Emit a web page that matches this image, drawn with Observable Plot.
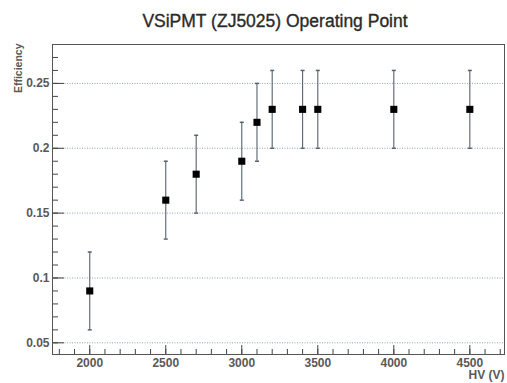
<!DOCTYPE html>
<html><head><meta charset="utf-8">
<script src="https://cdn.jsdelivr.net/npm/d3@7"></script>
<script src="https://cdn.jsdelivr.net/npm/@observablehq/plot@0.6"></script>
<style>body{margin:0;background:#fff;} svg{display:block}</style>
</head><body><div id="chart"></div>
<script>
const hv      = [2000, 2500, 2700, 3000, 3100, 3200, 3400, 3500, 4000, 4500];
const eff     = [0.09, 0.16, 0.18, 0.19, 0.22, 0.23, 0.23, 0.23, 0.23, 0.23];
const errLow  = [0.06, 0.13, 0.15, 0.16, 0.19, 0.20, 0.20, 0.20, 0.20, 0.20];
const errHigh = [0.12, 0.19, 0.21, 0.22, 0.25, 0.26, 0.26, 0.26, 0.26, 0.26];
const xTicks = [2000, 2500, 3000, 3500, 4000, 4500];
const yTicks = [0.05, 0.1, 0.15, 0.2, 0.25];
const xMinor = d3.range(1800, 4701, 100);
const yMinor = d3.range(5, 28).map(v => v / 100);
const title = "VSiPMT (ZJ5025) Operating Point";
const xLabel = "HV (V)";
const yLabel = "Efficiency";

const data = hv.map((x, i) => ({x, y: eff[i], lo: errLow[i], hi: errHigh[i]}));

const cap = {draw(ctx, size) { const w = Math.sqrt(size / Math.PI); ctx.moveTo(-w, 0); ctx.lineTo(w, 0); }};
const font = "'Liberation Sans', Helvetica, Arial, sans-serif";
const errColor = "#56636f";
const axisColor = "#444";
const labelColor = "#595959";

const chart = Plot.plot({
  width: 507, height: 383,
  marginLeft: 52, marginRight: 3, marginTop: 44, marginBottom: 29,
  style: {fontFamily: font, background: "#fff"},
  x: {domain: [1755, 4728], label: null},
  y: {domain: [0.041, 0.280], label: null},
  marks: [
    Plot.gridY(yTicks, {stroke: "#8fa3b8", strokeOpacity: 1, strokeDasharray: "1,1.5"}),
    Plot.axisY(yTicks, {anchor: "left", label: null, tickSize: 0, tickPadding: 3, tickFormat: d => String(d), fontSize: 12, fontWeight: "bold", fill: labelColor}),
    Plot.axisY(yTicks, {anchor: "left", label: null, tickSize: -12, text: null, stroke: axisColor}),
    Plot.axisY(yMinor, {anchor: "left", label: null, tickSize: -6, text: null, stroke: axisColor}),
    Plot.axisX(xTicks, {anchor: "bottom", label: null, tickSize: 0, tickPadding: 4, tickFormat: d => String(d), fontSize: 12, fontWeight: "bold", fill: labelColor}),
    Plot.axisX(xTicks, {anchor: "bottom", label: null, tickSize: -9, text: null, stroke: axisColor}),
    Plot.axisX(xMinor, {anchor: "bottom", label: null, tickSize: -5, text: null, stroke: axisColor}),
    Plot.frame({stroke: "#555"}),
    Plot.ruleX(data, {x: "x", y1: "lo", y2: "hi", stroke: errColor, strokeWidth: 1.1}),
    Plot.dot(data, {x: "x", y: "hi", symbol: cap, r: 2, stroke: errColor, fill: "none"}),
    Plot.dot(data, {x: "x", y: "lo", symbol: cap, r: 2, stroke: errColor, fill: "none"}),
    Plot.dot(data, {x: "x", y: "y", symbol: "square", r: 4, fill: "#000", stroke: "none"}),
    Plot.text([title], {frameAnchor: "top", dy: -23, dx: -3.5, text: d => d, fontSize: 17.5, fill: "#2a2a2a", stroke: "#2a2a2a", strokeWidth: 0.35, lineAnchor: "middle"}),
    Plot.text([xLabel], {frameAnchor: "bottom-right", dy: 21, dx: 0, textAnchor: "end", text: d => d, fontSize: 12, fontWeight: "bold", fill: labelColor, lineAnchor: "middle"}),
    Plot.text([yLabel], {frameAnchor: "top-left", dx: -34, dy: -1, rotate: -90, textAnchor: "end", text: d => d, fontSize: 10.5, fontWeight: "bold", fill: labelColor, lineAnchor: "middle"})
  ]
});
document.getElementById("chart").appendChild(chart);
</script>
</body></html>
